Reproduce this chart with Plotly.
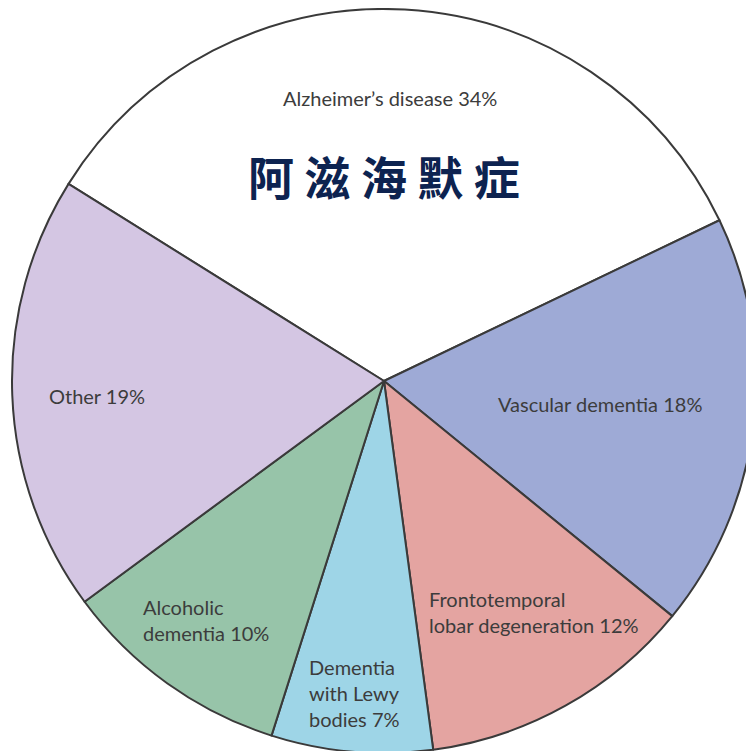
import plotly.graph_objects as go

categories = ["Alzheimer's disease", "Vascular dementia", "Frontotemporal lobar degeneration",
              "Dementia with Lewy bodies", "Alcoholic dementia", "Other"]
values = [34, 18, 12, 7, 10, 19]
label_texts = ["Alzheimer’s disease 34%", "Vascular dementia 18%",
               "Frontotemporal<br>lobar degeneration 12%", "Dementia<br>with Lewy<br>bodies 7%",
               "Alcoholic<br>dementia 10%", "Other 19%"]
colors = ["#ffffff", "#9eaad6", "#e4a4a1", "#9ed5e7", "#97c4a9", "#d4c6e3"]
# label anchor positions in page pixels (x, y from top) and alignment
label_pos = [(390, 98, "center"), (600, 404, "center"), (427, 612, "left"),
             (307, 693, "left"), (141, 620, "left"), (97, 396, "center")]
title_cn = "阿 滋 海 默 症"

W, H = 754, 751
OFF = 8          # default page body margin
R = 372
cx, cy = 384 - OFF, 381 - OFF


def px(x):
    return (x - OFF) / W


def py(y):
    return 1 - (y - OFF) / H


fig = go.Figure(go.Pie(
    labels=categories, values=values, sort=False, direction="clockwise",
    rotation=-58, marker=dict(colors=colors, line=dict(color="#3a3a3a", width=2)),
    textinfo="none", hoverinfo="label+percent", showlegend=False,
    domain=dict(x=[(cx - R) / W, (cx + R) / W], y=[1 - (cy + R) / H, 1 - (cy - R) / H]),
))

for txt, (x, y, al) in zip(label_texts, label_pos):
    xanchor = "left" if al == "left" else "center"
    fig.add_annotation(x=px(x), y=py(y), xref="paper", yref="paper", text=txt,
                       showarrow=False, xanchor=xanchor, yanchor="middle", align=al,
                       font=dict(family="Lato", size=20, color="#3c3c3c"))

fig.add_annotation(x=px(384), y=py(175), xref="paper", yref="paper", text="<b>" + title_cn + "</b>",
                   showarrow=False, xanchor="center", yanchor="middle",
                   font=dict(family="Noto Sans CJK SC", size=46, color="#0d2350"))

fig.update_layout(width=W, height=H, margin=dict(l=0, r=0, t=0, b=0),
                  paper_bgcolor="white", plot_bgcolor="white")
fig.write_html("out.html")
